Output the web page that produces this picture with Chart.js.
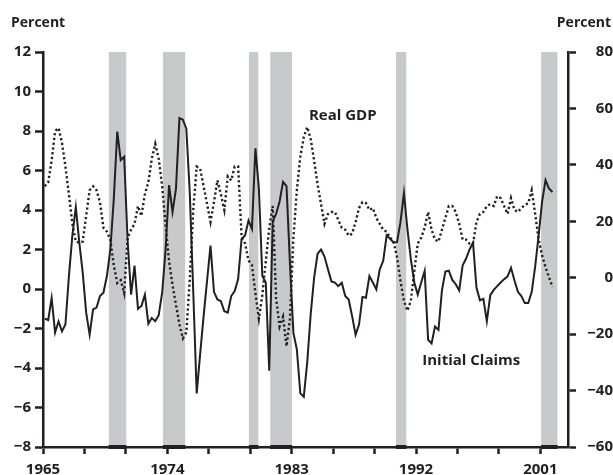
<!DOCTYPE html>
<html>
<head>
<meta charset="utf-8">
<script src="https://cdn.jsdelivr.net/npm/chart.js@4.4.1/dist/chart.umd.min.js"></script>
<style>
  html, body { margin: 0; padding: 0; background: #fff; }
  #wrap { width: 613px; height: 475px; }
</style>
</head>
<body>
<div id="wrap"><canvas id="chart" width="613" height="475"></canvas></div>
<script>
// quarterly series, 1965Q1 .. 2001Q4 (year-over-year percent change)
const startYear = 1965;

const realGDP = [
  5.2, 5.4, 6.5, 8.0, 8.15, 7.4, 6.2, 4.8, 3.3, 2.4, 2.35, 2.4, 3.7, 5.0, 5.2, 5.0,
  4.4, 3.1, 2.9, 2.5, 1.2, 0.3, 0.45, -0.2, 2.6, 3.0, 3.3, 4.2, 3.7, 4.8, 5.4, 6.6,
  7.35, 6.6, 5.2, 3.2, 1.4, 0.2, -0.8, -1.8, -2.5, -2.2, 0.5, 4.0, 6.2, 6.1, 5.2, 4.3,
  3.4, 4.4, 5.5, 4.8, 4.0, 5.7, 5.5, 6.2, 6.2, 2.65, 2.3, 1.45, 1.2, -0.2, -1.5, -0.3,
  1.4, 3.1, 4.2, -0.5, -1.9, -1.4, -2.9, -1.5, 2.6, 5.0, 6.7, 7.7, 8.2, 7.6, 6.5, 5.3,
  4.3, 3.3, 3.8, 3.9, 3.9, 3.5, 3.1, 3.0, 2.7, 2.8, 3.4, 4.1, 4.4, 4.35, 4.0, 4.1,
  3.6, 3.3, 3.0, 2.9, 2.6, 2.4, 1.6, 0.4, -0.6, -1.1, -0.6, 0.9, 2.3, 2.6, 3.1, 3.9,
  3.0, 2.5, 2.4, 3.0, 3.6, 4.2, 4.2, 3.9, 3.3, 2.5, 2.5, 2.3, 2.3, 3.4, 3.8, 3.9,
  4.2, 4.3, 4.2, 4.7, 4.6, 4.2, 3.8, 4.6, 4.0, 3.9, 4.1, 4.25, 4.35, 5.0, 3.8, 2.5,
  1.7, 1.1, 0.6, 0.1
];

const initialClaims = [
  -14.5, -15, -7.2, -19.4, -15.5, -19, -16.5, 0.5, 15, 25, 12.6, 1.8, -12.4, -20.2, -11.2, -10.6,
  -6.5, -5.3, 0.6, 10, 28, 51.8, 41.7, 42.9, 13, -6, 4.3, -11, -10, -6, -16.3, -14.3,
  -15.4, -13.3, -5.3, 10, 32.8, 23.3, 31.6, 56.6, 56, 52.8, 30, -5, -41, -27, -13.6, -1,
  11.4, -5, -7.7, -8.3, -11.9, -12.4, -6.5, -4.7, -0.5, 13.8, 15, 20.3, 17.3, 45.9, 31.6, 0.65,
  -1.7, -33, 20, 22.6, 27, 34, 32.5, 5, -19.6, -25.5, -41, -42.2, -30, -13, 0, 8.5,
  10, 7.5, 3, -1.3, -1.7, -3, -1.8, -6.5, -7.7, -13.6, -20.2, -16.6, -6.8, -7.1, 0.6, -1.7,
  -4.1, 3, 6, 15, 13.8, 12.5, 12.6, 19.7, 30, 17.3, 6.6, -1.7, -6, -1.7, 2.4, -22,
  -23.3, -17.3, -18.5, -4.5, 2.2, 2.5, -0.8, -2.3, -4.5, 4.4, 6.8, 10, 12.4, -3.5, -8, -7.5,
  -15.4, -6.2, -4.3, -3, -1.7, -0.5, 0.5, 3.5, -1, -5, -6.5, -9, -9, -5, 4, 15,
  27, 34.6, 31.6, 30.4
];

// recession periods (shaded)
const recessionStart = [1969.75, 1973.67, 1979.9, 1981.44, 1990.54, 2001.05];
const recessionEnd   = [1971.04, 1975.31, 1980.6, 1983.03, 1991.31, 2002.25];

const xTickLabels = [1965, 1974, 1983, 1992, 2001];

const ink = '#231f20';
const shade = '#c8c9cb';
const tickFont = { family: 'Open Sans', size: 15, weight: 'bold' };

function toPoints(values) {
  return values.map((v, i) => ({ x: startYear + (i + 0.5) / 4, y: v }));
}

const minus = v => String(v).replace('-', '\u2212');

let datasets = [
  {
    label: 'Real GDP',
    data: toPoints(realGDP),
    yAxisID: 'y',
    borderColor: ink,
    borderWidth: 2.4,
    borderDash: [2.2, 2.6],
    pointRadius: 0,
    tension: 0,
    fill: false
  },
  {
    label: 'Initial Claims',
    data: toPoints(initialClaims),
    yAxisID: 'y2',
    borderColor: ink,
    borderWidth: 2,
    pointRadius: 0,
    tension: 0,
    fill: false
  }
];

for (let i = 0; i < recessionStart.length; i++) {
  // dark strip on the axis under each recession
  datasets.push({
    label: 'strip' + i,
    data: [{ x: recessionStart[i], y: -8 }, { x: recessionEnd[i], y: -8 }],
    yAxisID: 'y',
    borderColor: ink,
    borderWidth: 4,
    pointRadius: 0,
    clip: false,
    fill: false
  });
  datasets.push({
    label: 'recession' + i,
    data: [{ x: recessionStart[i], y: 12 }, { x: recessionEnd[i], y: 12 }],
    yAxisID: 'y',
    borderWidth: 0,
    borderColor: 'rgba(0,0,0,0)',
    backgroundColor: shade,
    pointRadius: 0,
    fill: { value: -8 }
  });
}

// text labels (titles + series names)
const textPlugin = {
  id: 'texts',
  afterDraw(chart) {
    const ctx = chart.ctx;
    const x = chart.scales.x, y = chart.scales.y, y2 = chart.scales.y2;
    ctx.save();
    ctx.fillStyle = ink;
    ctx.textBaseline = 'middle';
    ctx.font = 'bold 14px "Open Sans"';
    ctx.textAlign = 'left';
    ctx.fillText('Percent', 11, 23);
    ctx.textAlign = 'right';
    ctx.fillText('Percent', 611, 23);

    ctx.font = 'bold 15px "Open Sans"';
    ctx.textAlign = 'left';
    ctx.fillText('Real GDP', x.getPixelForValue(1984.25), y.getPixelForValue(8.75));
    ctx.fillText('Initial Claims', x.getPixelForValue(1992.45), y2.getPixelForValue(-29.5));
    ctx.restore();
  }
};

new Chart(document.getElementById('chart'), {
  type: 'line',
  data: { datasets: datasets },
  plugins: [textPlugin],
  options: {
    responsive: false,
    animation: false,
    layout: { padding: { top: 52, left: 0, right: 0, bottom: 0 } },
    plugins: {
      legend: { display: false },
      tooltip: { enabled: false }
    },
    scales: {
      x: {
        type: 'linear',
        min: 1965,
        max: 2003,
        afterFit: s => { s.height = 28; },
        border: { color: ink, width: 2.5 },
        grid: { drawOnChartArea: false, tickLength: 7, tickColor: ink, tickWidth: 2.5 },
        ticks: {
          stepSize: 3,
          includeBounds: false,
          autoSkip: false,
          maxRotation: 0,
          padding: 7,
          color: ink,
          font: tickFont,
          callback: v => xTickLabels.includes(v) ? String(v) : ''
        }
      },
      y: {
        position: 'left',
        min: -8,
        max: 12,
        afterFit: s => { s.width = 43; },
        border: { color: ink, width: 2.5 },
        grid: { drawOnChartArea: false, tickLength: 8, tickColor: ink, tickWidth: 2.5 },
        ticks: { stepSize: 2, padding: 4, color: ink, font: tickFont, callback: minus }
      },
      y2: {
        position: 'right',
        min: -60,
        max: 80,
        afterFit: s => { s.width = 45; },
        border: { color: ink, width: 2.5 },
        grid: { drawOnChartArea: false, tickLength: 8, tickColor: ink, tickWidth: 2.5 },
        ticks: { stepSize: 20, padding: 7, color: ink, font: tickFont, crossAlign: 'far', callback: minus }
      }
    }
  }
});
</script>
</body>
</html>
